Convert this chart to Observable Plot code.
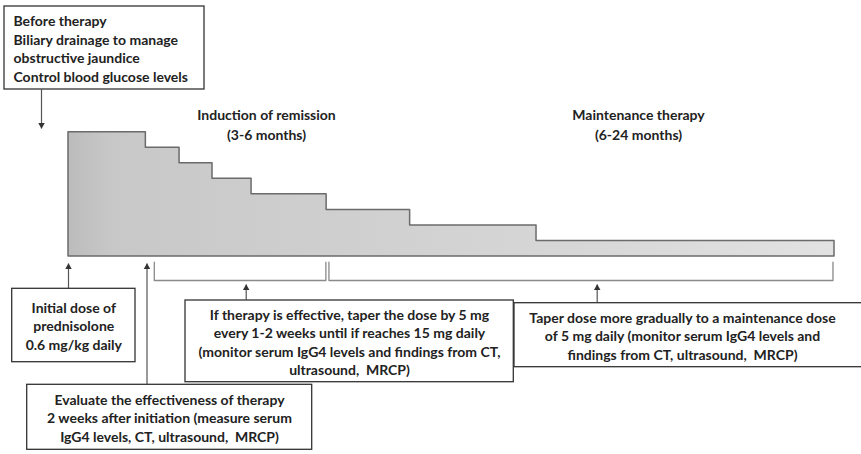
<!DOCTYPE html>
<html>
<head>
<meta charset="utf-8">
<script src="https://cdn.jsdelivr.net/npm/d3@7"></script>
<script src="https://cdn.jsdelivr.net/npm/@observablehq/plot@0.6"></script>
<style>
  html, body { margin: 0; padding: 0; background: #fff; }
  #chart svg { display: block; }
</style>
</head>
<body>
<div id="chart"></div>
<script>
// ---- Data: prednisolone dose schedule (relative time 0–100, dose in mg) ----
const stepStart = [0, 10.1, 14.5, 18.8, 23.9, 33.7, 44.6, 61.1, 100];
const stepDose  = [40, 35, 30, 25, 20, 15, 10, 5, 5];

// Phase brackets (relative time)
const phaseNames = ["Induction", "Maintenance"];
const phaseStart = [11.2, 34.0];
const phaseEnd   = [33.6, 99.8];

// Text content
const labelTexts = [
  "Induction of remission\n(3-6 months)",
  "Maintenance therapy\n(6-24 months)"
];
const boxTexts = [
  "Before therapy\nBiliary drainage to manage\nobstructive jaundice\nControl blood glucose levels",
  "Initial dose of\nprednisolone\n0.6 mg/kg daily",
  "Evaluate the effectiveness of therapy\n2 weeks after initiation (measure serum\nIgG4 levels, CT, ultrasound,  MRCP)",
  "Taper dose more gradually to a maintenance dose\nof 5 mg daily (monitor serum IgG4 levels and\nfindings from CT, ultrasound,  MRCP)",
  "If therapy is effective, taper the dose by 5 mg\nevery 1-2 weeks until if reaches 15 mg daily\n(monitor serum IgG4 levels and findings from CT,\nultrasound,  MRCP)"
];

// ---- Layout (pixel positions converted to chart units) ----
const X = p => (p - 68) / 7.66;
const Y = p => (256 - p) / 3.1075;

const series = stepStart.map((t, i) => ({t, dose: stepDose[i]}));

const boxLayout = [
  {x1: 4,   y1: 6,     x2: 204,   y2: 89,    tx: 13,  ty: 47.5, anchor: "start"},
  {x1: 11.7,y1: 288.3, x2: 135,   y2: 361.7, tx: 73.3,ty: 325,  anchor: "middle"},
  {x1: 26.7,y1: 384.3, x2: 311.7, y2: 449.3, tx: 169, ty: 417,  anchor: "middle"},
  {x1: 514, y1: 302.7, x2: 866,   y2: 366.7, tx: 682, ty: 335,  anchor: "middle"},
  {x1: 185, y1: 300,   x2: 513.3, y2: 381.7, tx: 349, ty: 341,  anchor: "middle"}
].map((b, i) => ({...b, text: boxTexts[i]}));

const labelLayout = [
  {tx: 266, ty: 123},
  {tx: 638, ty: 123}
].map((l, i) => ({...l, text: labelTexts[i]}));

const arrows = [
  {x: 41,    tail: 89,    tip: 128, dir: "down"},
  {x: 68,    tail: 288,   tip: 263, dir: "up"},
  {x: 146.5, tail: 384,   tip: 263, dir: "up"},
  {x: 245.7, tail: 300,   tip: 284, dir: "up"},
  {x: 596.7, tail: 302.7, tip: 284, dir: "up"}
];

const bracketTop = 261.7, bracketBottom = 280;
const bracketPts = [];
phaseNames.forEach((name, i) => {
  [[phaseStart[i], bracketTop], [phaseStart[i], bracketBottom],
   [phaseEnd[i], bracketBottom], [phaseEnd[i], bracketTop]]
    .forEach(([t, p]) => bracketPts.push({name, t, dose: Y(p)}));
});

const font = "Lato, 'Liberation Sans', sans-serif";
const fs = 14;
const textStyle = {
  x: d => X(d.tx), y: d => Y(d.ty), text: "text",
  lineAnchor: "middle", lineHeight: 1.33,
  fontSize: fs, fontWeight: "bold", fill: "#222", fontFamily: font
};

const svg = Plot.plot({
  width: 861,
  height: 454,
  margin: 0,
  x: {domain: [0, 100], range: [68, 834], axis: null},
  y: {domain: [0, 40], range: [256, 131.7], axis: null},
  style: {background: "#fff", fontFamily: font},
  marks: [
    // dose schedule
    Plot.areaY(series, {
      x: "t", y: "dose", curve: "step-after",
      fill: "url(#doseGrad)", stroke: "#6b6b6b", strokeWidth: 1.5
    }),
    // phase brackets
    Plot.line(bracketPts, {
      x: "t", y: "dose", z: "name", stroke: "#8a8a8a", strokeWidth: 1.3
    }),
    // arrows
    Plot.link(arrows, {
      x1: d => X(d.x), x2: d => X(d.x),
      y1: d => Y(d.tail), y2: d => Y(d.tip),
      stroke: "#555", strokeWidth: 1.2
    }),
    Plot.dot(arrows.filter(d => d.dir === "up"), {
      x: d => X(d.x), y: d => Y(d.tip), dy: 3.6,
      symbol: "triangle", r: 2.4, fill: "#333", stroke: "none"
    }),
    Plot.dot(arrows.filter(d => d.dir === "down"), {
      x: d => X(d.x), y: d => Y(d.tip), dy: -3.6, rotate: 180,
      symbol: "triangle", r: 2.4, fill: "#333", stroke: "none"
    }),
    // boxes
    Plot.rect(boxLayout, {
      x1: d => X(d.x1), x2: d => X(d.x2),
      y1: d => Y(d.y1), y2: d => Y(d.y2),
      fill: "#fff", stroke: "#333", strokeWidth: 1.3
    }),
    Plot.text(boxLayout.filter(d => d.anchor === "start"), {...textStyle, textAnchor: "start"}),
    Plot.text(boxLayout.filter(d => d.anchor === "middle"), {...textStyle, textAnchor: "middle"}),
    Plot.text(labelLayout, {...textStyle, textAnchor: "middle", lineHeight: 1.45})
  ]
});

// gradient for the dose area
const defs = d3.select(svg).insert("defs", ":first-child");
const g = defs.append("linearGradient").attr("id", "doseGrad")
  .attr("x1", "0").attr("x2", "1").attr("y1", "0").attr("y2", "0");
[[0, "#bcbcbc"], [0.03, "#c2c2c2"], [0.06, "#c8c8c8"], [0.35, "#cfcfcf"], [0.7, "#d8d8d8"], [1, "#e2e2e2"]]
  .forEach(([o, c]) => g.append("stop").attr("offset", o).attr("stop-color", c));

document.getElementById("chart").appendChild(svg);
</script>
</body>
</html>
